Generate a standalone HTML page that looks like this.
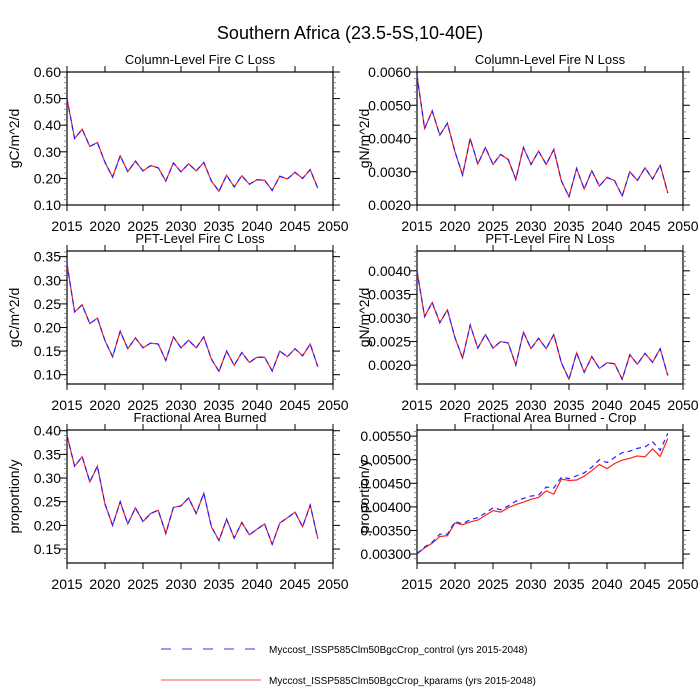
<!DOCTYPE html>
<html><head><meta charset="utf-8">
<style>
html,body{margin:0;padding:0;background:#fff;}
svg{display:block;font-family:"Liberation Sans",sans-serif;}
</style></head>
<body>
<svg id="chart" width="700" height="700" viewBox="0 0 700 700" xmlns="http://www.w3.org/2000/svg">
<text x="350" y="39" text-anchor="middle" font-size="18">Southern Africa (23.5-5S,10-40E)</text>
<g id="panels"></g>
<g>
<line x1="161" y1="649" x2="255" y2="649" stroke="#3333ee" stroke-width="1" stroke-dasharray="10,11"/>
<text x="269" y="653" font-size="10">Myccost_ISSP585Clm50BgcCrop_control (yrs 2015-2048)</text>
<line x1="161" y1="680" x2="261" y2="680" stroke="#ff5555" stroke-width="1"/>
<text x="269" y="684" font-size="10">Myccost_ISSP585Clm50BgcCrop_kparams (yrs 2015-2048)</text>
</g>
</svg>
<script>
const years = [];
for (let y = 2015; y <= 2048; y++) years.push(y);
const xTicks = [2015,2020,2025,2030,2035,2040,2045,2050];

const colCLoss = [0.50,0.35,0.385,0.32,0.335,0.26,0.205,0.285,0.225,0.265,0.228,0.248,0.24,0.19,0.258,0.225,0.255,0.228,0.26,0.19,0.152,0.212,0.168,0.21,0.178,0.195,0.193,0.155,0.208,0.198,0.223,0.2,0.233,0.163];
const colNLoss = [0.0059,0.0043,0.00483,0.0041,0.00446,0.0036,0.0029,0.004,0.00323,0.00373,0.00322,0.00352,0.00337,0.00277,0.00373,0.00322,0.00362,0.00322,0.00367,0.00272,0.00225,0.0031,0.00248,0.00303,0.00257,0.00283,0.00273,0.00227,0.003,0.00274,0.00312,0.00278,0.0032,0.00236];
const pftCLoss = [0.335,0.233,0.248,0.208,0.22,0.172,0.138,0.192,0.155,0.178,0.157,0.167,0.165,0.13,0.18,0.157,0.173,0.157,0.18,0.133,0.107,0.15,0.12,0.147,0.126,0.137,0.137,0.108,0.15,0.138,0.155,0.14,0.165,0.117];
const pftNLoss = [0.0040,0.00303,0.00333,0.0029,0.00317,0.00258,0.00215,0.00285,0.00236,0.00265,0.00236,0.0025,0.00247,0.002,0.0027,0.00235,0.00257,0.00235,0.00265,0.00205,0.0017,0.00226,0.00185,0.00218,0.00193,0.00205,0.00203,0.0017,0.00222,0.00202,0.00225,0.00206,0.00235,0.00178];
const fab = [0.39,0.325,0.345,0.292,0.325,0.245,0.2,0.25,0.203,0.237,0.208,0.225,0.232,0.183,0.238,0.241,0.258,0.225,0.268,0.197,0.168,0.213,0.173,0.206,0.18,0.192,0.203,0.16,0.205,0.216,0.228,0.197,0.243,0.172];
const fabCropKparams = [0.003,0.00313,0.00323,0.00337,0.00339,0.00366,0.00362,0.00368,0.00372,0.00382,0.00392,0.00389,0.00398,0.00405,0.0041,0.00416,0.0042,0.00434,0.00427,0.00459,0.00456,0.00457,0.00465,0.00477,0.0049,0.00481,0.00492,0.00499,0.00503,0.00508,0.00506,0.00523,0.00507,0.00545];
const fabCropControl = [0.00301,0.00315,0.00325,0.00342,0.00342,0.00369,0.00364,0.00373,0.00377,0.00387,0.00398,0.00394,0.00402,0.00412,0.00418,0.00423,0.00425,0.00442,0.0044,0.00463,0.0046,0.00466,0.00472,0.00484,0.005,0.00494,0.00505,0.00515,0.00518,0.00524,0.00527,0.00538,0.0052,0.00556];

const ticksColC = [0.10,0.20,0.30,0.40,0.50,0.60];
const ticksColN = [0.0020,0.0030,0.0040,0.0050,0.0060];
const ticksPftC = [0.10,0.15,0.20,0.25,0.30,0.35];
const ticksPftN = [0.0020,0.0025,0.0030,0.0035,0.0040];
const ticksFab = [0.15,0.20,0.25,0.30,0.35,0.40];
const ticksCrop = [0.0030,0.0035,0.0040,0.0045,0.0050,0.0055];

const NS = "http://www.w3.org/2000/svg";
const root = document.getElementById('panels');
function mk(tag, attrs, parent) {
  const e = document.createElementNS(NS, tag);
  for (const k in attrs) e.setAttribute(k, attrs[k]);
  parent.appendChild(e);
  return e;
}

const panels = [
  {key:'col-c', title:'Column-Level Fire C Loss', ytitle:'gC/m^2/d', x0:67, y0:72, ymin:0.10, ymax:0.60, ticks:ticksColC, dec:2, minor:5, ctrl:colCLoss, kp:colCLoss},
  {key:'col-n', title:'Column-Level Fire N Loss', ytitle:'gN/m^2/d', x0:417, y0:72, ymin:0.0020, ymax:0.0060, ticks:ticksColN, dec:4, minor:5, ctrl:colNLoss, kp:colNLoss},
  {key:'pft-c', title:'PFT-Level Fire C Loss', ytitle:'gC/m^2/d', x0:67, y0:251, ymin:0.0803, ymax:0.362, ticks:ticksPftC, dec:2, minor:5, ctrl:pftCLoss, kp:pftCLoss},
  {key:'pft-n', title:'PFT-Level Fire N Loss', ytitle:'gN/m^2/d', x0:417, y0:251, ymin:0.00160, ymax:0.00442, ticks:ticksPftN, dec:4, minor:5, ctrl:pftNLoss, kp:pftNLoss},
  {key:'fab', title:'Fractional Area Burned', ytitle:'proportion/y', x0:67, y0:430, ymin:0.1205, ymax:0.4015, ticks:ticksFab, dec:2, minor:5, ctrl:fab, kp:fab},
  {key:'fab-crop', title:'Fractional Area Burned - Crop', ytitle:'proportion/y', x0:417, y0:430, ymin:0.00281, ymax:0.00563, ticks:ticksCrop, dec:5, minor:5, ctrl:fabCropControl, kp:fabCropKparams}
];
const W = 266, H = 133;

panels.forEach(p => {
  const g = mk('g', {}, root);
  
  
  const xs = v => p.x0 + (v - 2015) / 35 * W;
  const ys = v => p.y0 + H - (v - p.ymin) / (p.ymax - p.ymin) * H;
  const bx = mk('rect', {x:p.x0, y:p.y0, width:W, height:H, fill:'none', stroke:'#000', 'stroke-width':1.2}, g);
  
  
  xTicks.forEach(t => {
    const x = xs(t);
    mk('line', {x1:x, x2:x, y1:p.y0 + H, y2:p.y0 + H + 6, stroke:'#000'}, g);
    mk('line', {x1:x, x2:x, y1:p.y0, y2:p.y0 - 6, stroke:'#000'}, g);
    const lb = mk('text', {x:x, y:p.y0 + H + 26, 'text-anchor':'middle', 'font-size':14}, g);
    lb.textContent = t;
    
    
  });
  const step = p.ticks[1] - p.ticks[0];
  const mstep = step / p.minor;
  for (let v = p.ticks[0] - 3 * step; v <= p.ticks[p.ticks.length - 1] + 3 * step + 1e-12; v += mstep) {
    if (v < p.ymin - 1e-9 || v > p.ymax + 1e-9) continue;
    const y = ys(v);
    mk('line', {x1:p.x0, x2:p.x0 - 3, y1:y, y2:y, stroke:'#777', 'stroke-width':0.8}, g);
    mk('line', {x1:p.x0 + W, x2:p.x0 + W + 3, y1:y, y2:y, stroke:'#777', 'stroke-width':0.8}, g);
  }
  p.ticks.forEach(t => {
    const y = ys(t);
    mk('line', {x1:p.x0, x2:p.x0 - 7, y1:y, y2:y, stroke:'#000'}, g);
    mk('line', {x1:p.x0 + W, x2:p.x0 + W + 7, y1:y, y2:y, stroke:'#000'}, g);
    const lb = mk('text', {x:p.x0 - 6, y:y + 5, 'text-anchor':'end', 'font-size':14}, g);
    lb.textContent = t.toFixed(p.dec);
    
    
  });
  const tt = mk('text', {x:p.x0 + W / 2, y:p.y0 - 8, 'text-anchor':'middle', 'font-size':13}, g);
  tt.textContent = p.title;
  
  
  const yt = mk('text', {x:0, y:0, 'text-anchor':'middle', 'font-size':14, transform:'translate(' + (p.x0 - 48) + ',' + (p.y0 + H / 2) + ') rotate(-90)'}, g);
  yt.textContent = p.ytitle;
  
  
  const ptsK = p.kp.map((v, i) => xs(years[i]).toFixed(2) + ',' + ys(v).toFixed(2)).join(' ');
  const ptsC = p.ctrl.map((v, i) => xs(years[i]).toFixed(2) + ',' + ys(v).toFixed(2)).join(' ');
  const lk = mk('polyline', {points:ptsK, fill:'none', stroke:'#ff2020', 'stroke-width':1.2}, g);
  
  
  const lc = mk('polyline', {points:ptsC, fill:'none', stroke:'#2020ff', 'stroke-width':1.2, 'stroke-dasharray':'5,4'}, g);
  
  
});
</script>
</body></html>
